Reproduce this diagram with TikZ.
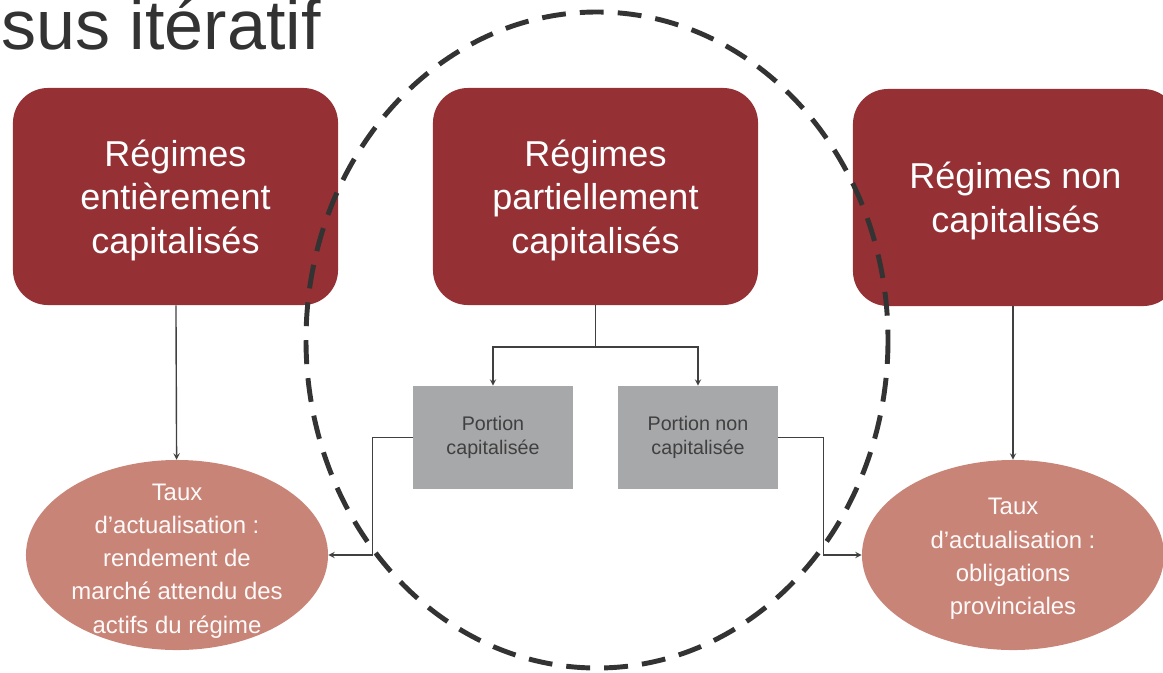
\documentclass[tikz,border=0pt]{standalone}
\usepackage{fontspec}
\setmainfont{Liberation Sans}
\definecolor{rougeregime}{HTML}{953034}
\definecolor{grisportion}{HTML}{A7A8AA}
\definecolor{saumon}{HTML}{C98478}
\definecolor{trait}{HTML}{404040}
\definecolor{titre}{HTML}{333333}
\tikzset{
  regime/.style={draw=none, fill=rougeregime, rounded corners=0.875cm, minimum width=8.125cm,
    minimum height=5.425cm, inner sep=0pt, align=center, text=white, text depth=0pt,
    font=\fontsize{25.6}{31}\selectfont},
  portion/.style={fill=grisportion, minimum width=4cm, minimum height=2.575cm, inner sep=0pt,
    align=center, text=trait, font=\fontsize{14}{17}\selectfont},
  taux/.style={ellipse, fill=saumon, minimum width=7.55cm, minimum height=4.75cm, inner sep=0pt},
  tauxtexte/.style={align=center, text=white!96!saumon, inner sep=0pt,
    font=\fontsize{17}{23.6}\selectfont},
  lien/.style={draw=trait, line width=1pt},
  pointille/.style={draw=titre, line width=3.5pt, dash pattern=on 17pt off 10pt}
}
\usetikzlibrary{shapes.geometric}
\begin{document}
\begin{tikzpicture}[>=stealth, x=0.025cm, y=-0.025cm]
\useasboundingbox (0,0) rectangle (1163,672);
\node[anchor=base east, inner sep=0pt, text=titre, font=\fontsize{49.8}{60}\selectfont] (titre) at (321,49) {sus itératif};
% trois types de régimes
\node[regime] (entier) at (175.5,196.5) {Régimes\\entièrement\\capitalisés};
\node[regime] (partiel) at (595.5,196.5) {Régimes\\partiellement\\capitalisés};
\node[regime] (noncap) at (1015.5,197.5) {Régimes non\\capitalisés};
\node[portion] (pcap) at (493,437.5) {Portion\\capitalisée};
\node[portion] (pnon) at (698,437.5) {Portion non\\capitalisée};
\node[taux, label={[tauxtexte, yshift=-0.15cm]center:{Taux\\d’actualisation :\\rendement de\\marché attendu des\\actifs du régime}}] (tentier) at (177,555) {};
\node[taux, label={[tauxtexte, yshift=-0.1cm]center:{Taux\\d’actualisation :\\obligations\\provinciales}}] (tnon) at (1013,555) {};
\coordinate (fourche) at (595.5,347);
\draw[lien,->] (entier) -- (tentier);
\draw[lien] (partiel) -- (fourche);
\draw[lien,->] (fourche) -| (pcap);
\draw[lien,->] (fourche) -| (pnon);
\draw[lien,->] (noncap.south -| tnon) -- (tnon);
\draw[lien,->] (pcap.west) -- ++(-40,0) |- (tentier.east);
\draw[lien,->] (pnon.east) -- ++(45,0) |- (tnon.west);
\draw[pointille] (597,340) ellipse [x radius=291, y radius=328];
\end{tikzpicture}
\end{document}
